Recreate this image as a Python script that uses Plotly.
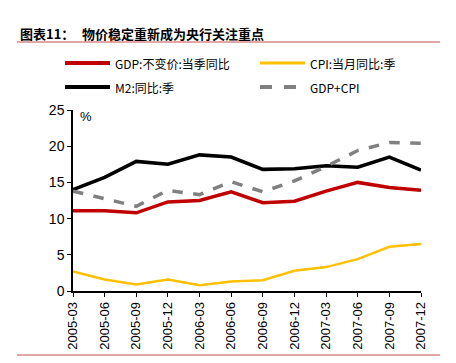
import plotly.graph_objects as go

categories = ["2005-03", "2005-06", "2005-09", "2005-12", "2006-03", "2006-06",
              "2006-09", "2006-12", "2007-03", "2007-06", "2007-09", "2007-12"]
gdp = [11.1, 11.1, 10.8, 12.3, 12.5, 13.7, 12.2, 12.4, 13.8, 15.0, 14.3, 13.9]
cpi = [2.7, 1.6, 0.9, 1.6, 0.8, 1.3, 1.5, 2.8, 3.3, 4.4, 6.1, 6.5]
m2 = [14.0, 15.7, 17.9, 17.5, 18.8, 18.5, 16.8, 16.9, 17.3, 17.1, 18.5, 16.7]
gdp_cpi = [13.8, 12.7, 11.7, 13.9, 13.3, 15.1, 13.7, 15.2, 17.2, 19.4, 20.5, 20.4]
y_ticks = [0, 5, 10, 15, 20, 25]

series_names = ["GDP:不变价:当季同比", "CPI:当月同比:季", "M2:同比:季", "GDP+CPI"]
series_colors = ["#c00000", "#ffc000", "#000000", "#808080"]
series_widths = [3.5, 2.5, 3.5, 3.5]
series_dash = ["solid", "solid", "solid", "dash"]
series_values = [gdp, cpi, m2, gdp_cpi]

x = list(range(len(categories)))
cjk = "Noto Sans CJK SC, Liberation Sans, sans-serif"

# plot area geometry (pixels)
L, R, T, B = 73, 421, 110, 291
W, H = R - L, B - T


def px(xp):
    return (xp - L) / W


def py(yp):
    return (B - yp) / H


fig = go.Figure()
for name, vals, col, wd, ds in zip(series_names, series_values, series_colors,
                                   series_widths, series_dash):
    fig.add_trace(go.Scatter(x=x, y=vals, mode="lines", name=name,
                             line=dict(color=col, width=wd, dash=ds)))

fig.update_layout(
    width=456, height=363,
    margin=dict(l=L, r=456 - R, t=T, b=363 - B, autoexpand=False),
    paper_bgcolor="white", plot_bgcolor="white",
    showlegend=False,
    xaxis=dict(range=[0, 11], tickvals=x, ticktext=categories, tickangle=-90,
               showgrid=False, zeroline=False, showline=True, linecolor="black",
               linewidth=1.5, ticks="outside", ticklen=4, tickcolor="black",
               tickfont=dict(family="Liberation Sans, Arial, sans-serif", size=13, color="#000")),
    yaxis=dict(range=[0, 25], tickvals=y_ticks, showgrid=False, zeroline=False,
               showline=True, linecolor="black", linewidth=1.5, ticks="outside",
               ticklen=4, tickcolor="black",
               tickfont=dict(family="Liberation Sans, Arial, sans-serif", size=14, color="#000")),
)

# custom legend
legend_pos = [(65, 63), (260, 63), (65, 87), (260, 87)]
for (lx, ly), name, col, wd, ds in zip(legend_pos, series_names, series_colors,
                                       series_widths, series_dash):
    fig.add_shape(type="line", xref="paper", yref="paper",
                  x0=px(lx), x1=px(lx + 45), y0=py(ly), y1=py(ly),
                  line=dict(color=col, width=4 if wd > 3 else 3, dash=ds))
    fig.add_annotation(text=name, xref="paper", yref="paper", x=px(lx + 48), y=py(ly),
                       xanchor="left", yanchor="middle", showarrow=False,
                       font=dict(family=cjk, size=12, color="#000"))

# title
fig.add_annotation(text="<b>图表11：</b>", xref="paper", yref="paper",
                   x=px(18), y=py(33), xanchor="left", yanchor="middle",
                   showarrow=False, font=dict(family=cjk, size=13, color="#000"))
fig.add_annotation(text="<b>物价稳定重新成为央行关注重点</b>", xref="paper", yref="paper",
                   x=px(80), y=py(33), xanchor="left", yanchor="middle",
                   showarrow=False, font=dict(family=cjk, size=13, color="#000"))
fig.add_annotation(text="%", xref="paper", yref="paper", x=px(86), y=py(116),
                   xanchor="center", yanchor="middle", showarrow=False,
                   font=dict(family="Liberation Sans, Arial, sans-serif", size=13, color="#000"))
for yy in [42, 355]:
    fig.add_shape(type="line", xref="paper", yref="paper",
                  x0=px(17), x1=px(440), y0=py(yy), y1=py(yy),
                  line=dict(color="#c0504d", width=1))

fig.write_html("out.html", config={"displayModeBar": False},
               post_script="document.body.style.margin='0';document.body.style.overflow='hidden';")
